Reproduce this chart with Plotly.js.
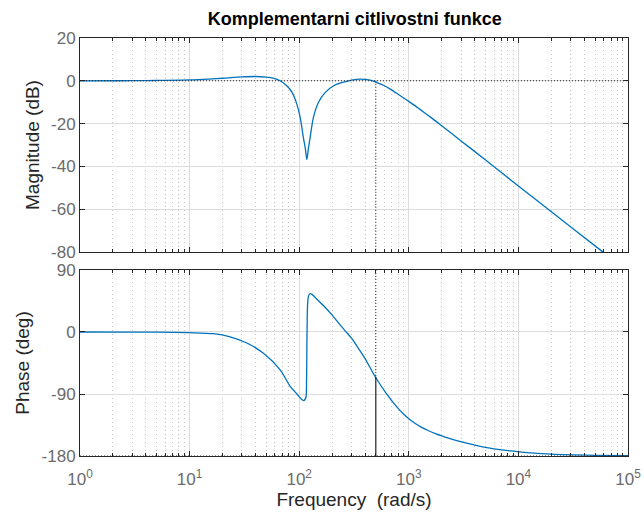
<!DOCTYPE html>
<html>
<head>
<meta charset="utf-8">
<script src="https://cdn.plot.ly/plotly-3.0.1.min.js"></script>
<style>
html,body{margin:0;padding:0;background:#fff;}
#chart{width:644px;height:521px;}
</style>
</head>
<body>
<div id="chart"></div>
<script>
// ---- data ----
const magFreq = [1, 2, 3, 5, 10, 15, 20, 30, 40, 50, 58, 67, 77, 86, 95, 102, 109, 114, 117.5, 121, 126, 135, 150, 173, 206, 240, 273, 300, 361, 445, 512, 600, 678, 800, 1000, 1200, 1400, 1600, 1940, 2400, 3000, 4820, 10000, 20000, 58100, 70000];
const magDb = [0, 0.02, 0.05, 0.15, 0.4, 0.8, 1.2, 1.8, 2.0, 1.7, 1.2, 0, -2.3, -5.4, -10.8, -17, -26.3, -32, -36.8, -32, -26.3, -17, -10, -5.4, -2.3, -1.0, -0.3, 0.3, 0.8, 0.3, -0.8, -2.3, -3.9, -6.3, -9.6, -12.5, -15.0, -17.2, -20.5, -24.2, -28.1, -36.3, -49.2, -61.2, -79.7, -83];

const phaseFreq = [1, 3, 5, 10, 16.5, 23.4, 33.3, 47.2, 67, 82.8, 95.3, 104, 109.6, 113, 115.5, 116.5, 117.5, 118.5, 119.5, 121.6, 125, 130, 140, 167, 200, 237, 265, 300, 336, 400, 494, 622, 780, 900, 1000, 1146, 1300, 1500, 1750, 2000, 2300, 2735, 3300, 4000, 6000, 11270, 20000, 50000, 100000];
const phaseDeg = [0, -0.1, -0.3, -1, -2.5, -7, -16, -31, -55, -79, -90, -97, -99.5, -98, -94, -80, -21, 25, 42, 52, 55.5, 55, 50, 38, 24.5, 10, 1, -9, -20.5, -39, -65, -89, -109, -119.5, -126, -132.8, -138, -143, -147.5, -150.9, -154.1, -157.6, -161, -164.2, -169.5, -174.7, -177.4, -179, -179.5];

const crossFreq = [500];
const crossPhase = [-65];
const refMag = [0];
const refPhase = [-180];
const freqRange = [1, 100000];
const magRange = [-80, 20];
const phaseRange = [-180, 90];

const freqTicks = [1, 10, 100, 1000, 10000, 100000];
const freqTickText = ['10<sup>0</sup>', '10<sup>1</sup>', '10<sup>2</sup>', '10<sup>3</sup>', '10<sup>4</sup>', '10<sup>5</sup>'];
const magTicks = [20, 0, -20, -40, -60, -80];
const magTickText = ['20', '0', '-20', '-40', '-60', '-80'];
const phaseTicks = [90, 0, -90, -180];
const phaseTickText = ['90', '0', '-90', '-180'];

// minor decade ticks 2..9
const minorFreq = [];
for (let d = 0; d < 5; d++) {
  for (let m = 2; m <= 9; m++) minorFreq.push(m * Math.pow(10, d));
}

const blue = '#0072BD';
const dark = '#262626';
const tickGray = '#6b6b6b';
const FONT = 'Liberation Sans, Arial, sans-serif';

const traces = [
  {x: magFreq, y: magDb, xaxis: 'x', yaxis: 'y', mode: 'lines',
   line: {color: blue, width: 1.3, shape: 'spline', smoothing: 0.8}, hoverinfo: 'skip'},
  {x: phaseFreq, y: phaseDeg, xaxis: 'x2', yaxis: 'y2', mode: 'lines',
   line: {color: blue, width: 1.3, shape: 'spline', smoothing: 0.8}, hoverinfo: 'skip'},
  {x: freqRange, y: [refMag[0], refMag[0]], xaxis: 'x', yaxis: 'y', mode: 'lines',
   line: {color: '#222', width: 1, dash: '1px,2px'}, hoverinfo: 'skip'},
  {x: [crossFreq[0], crossFreq[0]], y: [refMag[0], magRange[0]], xaxis: 'x', yaxis: 'y', mode: 'lines',
   line: {color: '#222', width: 1, dash: '1px,2px'}, hoverinfo: 'skip'},
  {x: freqRange, y: [refPhase[0], refPhase[0]], xaxis: 'x2', yaxis: 'y2', mode: 'lines',
   line: {color: '#222', width: 1, dash: '1px,2px'}, hoverinfo: 'skip'},
  {x: [crossFreq[0], crossFreq[0]], y: [phaseRange[1], crossPhase[0]], xaxis: 'x2', yaxis: 'y2', mode: 'lines',
   line: {color: '#222', width: 1, dash: '1px,2px'}, hoverinfo: 'skip'},
  {x: [crossFreq[0], crossFreq[0]], y: [crossPhase[0], refPhase[0]], xaxis: 'x2', yaxis: 'y2', mode: 'lines',
   line: {color: '#222', width: 1.2}, hoverinfo: 'skip'}
];

function xAxis(anchor, showLabels) {
  return {
    type: 'log', range: [Math.log10(freqRange[0]), Math.log10(freqRange[1])],
    anchor: anchor, domain: [0, 1],
    tickmode: 'array', tickvals: freqTicks, ticktext: freqTickText,
    showticklabels: showLabels, ticklabelstandoff: 8,
    ticks: 'inside', ticklen: 5, tickcolor: dark, tickwidth: 1,
    showline: true, linecolor: dark, linewidth: 1, mirror: 'allticks',
    showgrid: true, gridcolor: '#dcdcdc', gridwidth: 1, zeroline: false,
    tickfont: {family: FONT, size: 17, color: tickGray},
    minor: {tickmode: 'array', tickvals: minorFreq, ticks: 'inside', ticklen: 3, tickcolor: dark,
            showgrid: true, gridcolor: '#c8c8c8', griddash: '1px,3px', gridwidth: 1},
    fixedrange: true
  };
}

function yAxis(domain, range, ticks, text, title, anchor) {
  return {
    domain: domain, range: range, anchor: anchor,
    tickmode: 'array', tickvals: ticks, ticktext: text,
    ticks: 'inside', ticklen: 5, tickcolor: dark,
    showline: true, linecolor: dark, linewidth: 1, mirror: 'ticks',
    showgrid: true, gridcolor: '#dcdcdc', zeroline: false,
    tickfont: {family: FONT, size: 17, color: tickGray},
    title: {text: title, font: {family: FONT, size: 19, color: dark}, standoff: 6},
    fixedrange: true
  };
}

const layout = {
  width: 644, height: 521,
  margin: {l: 80, r: 16, t: 38, b: 65, pad: 0},
  paper_bgcolor: '#fff', plot_bgcolor: '#fff',
  showlegend: false,
  title: {text: '<b>Komplementarni citlivostni funkce</b>', x: 0.551, xanchor: 'center', y: 0.965, yanchor: 'middle',
          font: {family: FONT, size: 18, color: '#000'}},
  xaxis: xAxis('y', false),
  xaxis2: Object.assign(xAxis('y2', true), {
    title: {text: 'Frequency  (rad/s)', font: {family: FONT, size: 19, color: dark}, standoff: 4}
  }),
  yaxis: yAxis([0.488, 1], magRange, magTicks, magTickText, 'Magnitude (dB)', 'x'),
  yaxis2: yAxis([0, 0.445], phaseRange, phaseTicks, phaseTickText, 'Phase (deg)', 'x2')
};

Plotly.newPlot('chart', traces, layout, {staticPlot: true, displayModeBar: false});
</script>
</body>
</html>
